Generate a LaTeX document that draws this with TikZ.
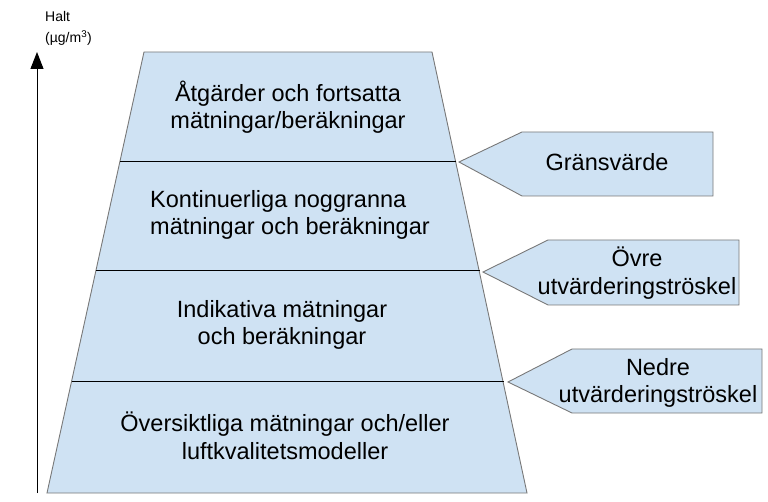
\documentclass[tikz,border=0pt]{standalone}
\usepackage{fontspec}
\setmainfont{Liberation Sans}
\usetikzlibrary{arrows.meta}
\definecolor{fillblue}{RGB}{207,226,243}
\definecolor{edgegray}{RGB}{120,120,120}
\tikzset{
  band/.style={fill=fillblue,draw=edgegray,line width=0.9pt},
  divider/.style={draw=black,line width=1pt},
  tag/.style={fill=fillblue,draw=edgegray,line width=0.9pt},
  bigtext/.style={align=center,inner sep=0pt,font=\fontsize{23.5}{27.5}\selectfont},
  axistext/.style={anchor=base west,inner sep=0pt,font=\fontsize{14}{16}\selectfont}
}
\begin{document}
\begin{tikzpicture}[x=1pt,y=-1pt]
\useasboundingbox (0,0) rectangle (768,502);
% trapezoid
\coordinate (tl) at (144,52);
\coordinate (tr) at (432,52);
\coordinate (bl) at (47,493);
\coordinate (br) at (527,493);
\path[band] (tl) -- (tr) -- (br) -- (bl) -- cycle;
% dividers
\coordinate (d1l) at (119.8,162);
\coordinate (d1r) at (455.7,162);
\coordinate (d2l) at (95.8,271);
\coordinate (d2r) at (479.5,271);
\coordinate (d3l) at (71.6,381);
\coordinate (d3r) at (503.7,381);
\draw[divider] (d1l) -- (d1r);
\draw[divider] (d2l) -- (d2r);
\draw[divider] (d3l) -- (d3r);
% band texts
\node[bigtext] (t1) at (288,107) {Åtgärder och fortsatta\\mätningar/beräkningar};
\node[bigtext,align=left,anchor=west] (t2) at (150,215) {Kontinuerliga noggranna\\mätningar och beräkningar};
\node[bigtext] (t3) at (282,325) {Indikativa mätningar\\och beräkningar};
\node[bigtext] (t4) at (285,436) {Översiktliga mätningar och/eller\\luftkvalitetsmodeller};
% tags
\path[tag] (459,162) -- (522,132) -- (713,132) -- (713,196) -- (522,196) -- cycle;
\node[bigtext] (g1) at (607,162) {Gränsvärde};
\path[tag] (483,272) -- (548,240) -- (739,240) -- (739,305) -- (548,305) -- cycle;
\node[bigtext] (g2) at (637,273) {Övre\\utvärderingströskel};
\path[tag] (508,382) -- (572,349) -- (762,349) -- (762,413) -- (572,413) -- cycle;
\node[bigtext] (g3) at (658,383) {Nedre\\utvärderingströskel};
% axis
\coordinate (a0) at (37,493);
\coordinate (a1) at (37,52);
\draw[line width=1pt,-{Triangle[length=17pt,width=13pt]}] (a0) -- (a1);
\node[axistext] (h1) at (45,22) {Halt};
\node[axistext] (h2) at (45,43) {(µg/m\textsuperscript{3})};
\end{tikzpicture}
\end{document}
